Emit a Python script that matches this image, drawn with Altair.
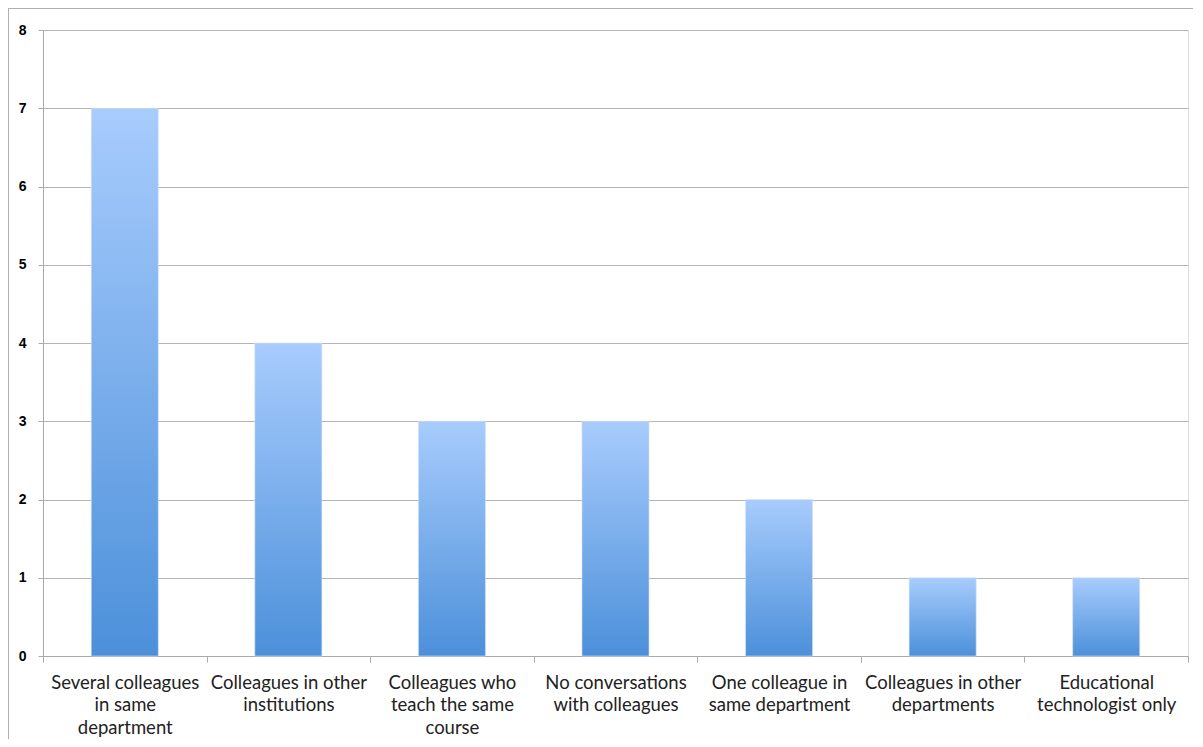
import altair as alt
import pandas as pd

categories = [
    "Several colleagues|in same|department",
    "Colleagues in other|institutions",
    "Colleagues who|teach the same|course",
    "No conversations|with colleagues",
    "One colleague in|same department",
    "Colleagues in other|departments",
    "Educational|technologist only",
]
counts = [7, 4, 3, 3, 2, 1, 1]
y_ticks = [0, 1, 2, 3, 4, 5, 6, 7, 8]

df = pd.DataFrame({"category": categories, "count": counts})

W, H = 1145, 626

grad = alt.Gradient(
    gradient="linear",
    x1=0, y1=0, x2=0, y2=1,
    stops=[
        alt.GradientStop(offset=0, color="#a8ccfd"),
        alt.GradientStop(offset=1, color="#4c90da"),
    ],
)

bars = alt.Chart(df).mark_bar(
    color=grad, stroke="#d6e4f2", strokeWidth=0.6,
    width=alt.RelativeBandSize(0.41),
).encode(
    x=alt.X(
        "category:N",
        sort=categories,
        title=None,
        scale=alt.Scale(paddingInner=0, paddingOuter=0),
        axis=alt.Axis(
            labelExpr="split(datum.label, '|')",
            labelAngle=0,
            labelFont="Lato",
            labelFontSize=18.5,
            labelColor="#222222",
            labelLineHeight=22.5,
            labelPadding=11,
            tickBand="extent",
            tickSize=6,
            tickColor="#aaaaaa",
            domainColor="#aaaaaa",
            grid=False,
            labelLimit=300,
        ),
    ),
    y=alt.Y(
        "count:Q",
        title=None,
        scale=alt.Scale(domain=[0, 8], nice=False),
        axis=alt.Axis(
            values=y_ticks,
            format="d",
            labelFont="Liberation Sans",
            labelFontSize=14,
            labelFontWeight="bold",
            labelColor="#000000",
            labelPadding=12,
            tickSize=5,
            tickColor="#aaaaaa",
            domainColor="#aaaaaa",
            gridColor="#b5b5b5",
            gridWidth=1.2,
        ),
    ),
)

frame_top = alt.Chart(df).mark_rule(color="#b0b0b0", strokeWidth=2).encode(
    x=alt.value(-35), x2=alt.value(W + 10), y=alt.value(-22)
)
frame_left = alt.Chart(df).mark_rule(color="#b0b0b0", strokeWidth=2).encode(
    x=alt.value(-35), y=alt.value(-22), y2=alt.value(H + 120)
)

chart = (
    alt.layer(frame_top, frame_left, bars)
    .properties(
        width=W,
        height=H,
        autosize=alt.AutoSizeParams(type="none"),
        padding={"left": 35, "top": 22, "right": 5, "bottom": 83},
    )
    .configure_view(stroke=None)
    .configure(background="white")
)

chart.save("out.html", embed_options={"renderer": "svg", "actions": False})
